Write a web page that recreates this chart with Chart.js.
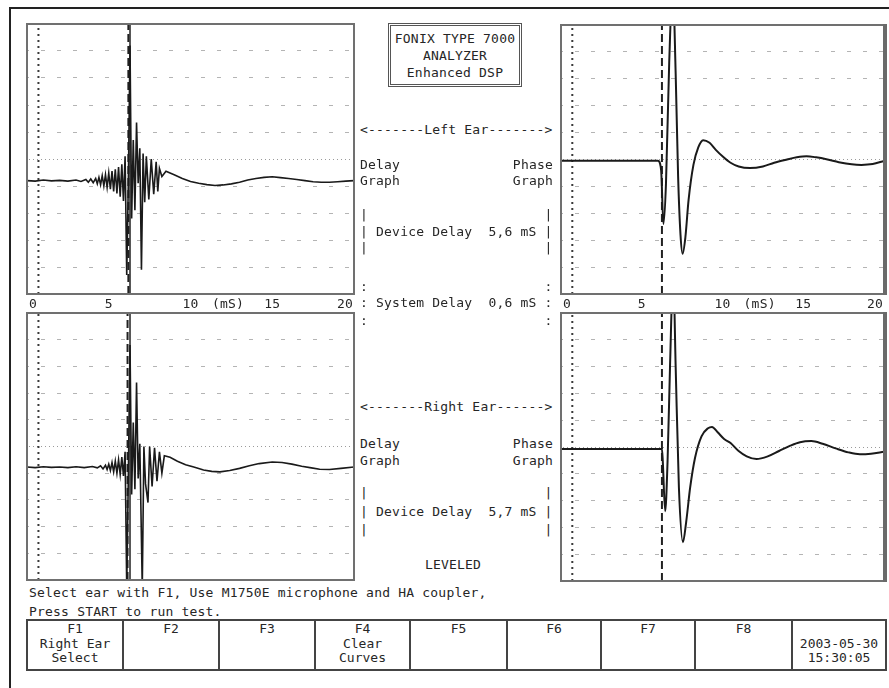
<!DOCTYPE html>
<html>
<head>
<meta charset="utf-8">
<script src="https://cdn.jsdelivr.net/npm/chart.js@4/dist/chart.umd.min.js"></script>
<style>
  html, body { margin: 0; padding: 0; background: #fff; }
  #screen { position: relative; width: 889px; height: 688px; overflow: hidden; background: #fff;
            font-family: "DejaVu Sans Mono", "Liberation Mono", monospace; font-size: 13px; color: #262626; }
  #screen canvas { position: absolute; }
  .t { position: absolute; white-space: pre; line-height: 14px; height: 14px; letter-spacing: 0.2px; }
  #frame { position: absolute; left: 9px; top: 7px; width: 900px; height: 700px;
           border-left: 2px solid #222; border-top: 2px solid #222; }
  #badge { position: absolute; left: 388px; top: 23px; width: 128px; height: 58px;
           border: 3px double #555; }
  #keys { position: absolute; left: 26px; top: 619px; border-collapse: collapse; table-layout: fixed; }
  #keys td { border: 2px solid #444; height: 47px; padding: 1px 0 0 0; vertical-align: top;
             text-align: center; line-height: 14.5px; white-space: pre; font-size: 13px; color: #262626; }
</style>
</head>
<body>
<div id="screen">
  <div id="frame"></div>
  <div id="badge"></div>
  <canvas id="leftDelay"></canvas>
  <canvas id="leftPhase"></canvas>
  <canvas id="rightDelay"></canvas>
  <canvas id="rightPhase"></canvas>
  <table id="keys"><tr id="keyRow"></tr></table>
</div>
<script>
// ---- time axis (ms) and labels ----
const timeTicks = [0, 5, 10, 15, 20];
const tickText = ['0', '5', '10', '15', '20'];
const unitText = '(mS)';
const unitAtMs = 12.3;

// ---- cursors (ms) ----
const referenceMs = 0.7;          // dotted reference line
const leftEarCursorMs = 6.2;      // device delay 5.6 + system delay 0.6
const rightEarCursorMs = 6.25;    // device delay 5.7 + system delay 0.6
const peakCursorMs = 6.3;         // solid marker on the delay graphs

// ---- Left ear, delay graph ----
const leftDelayMs = [0,0.5,1,1.5,2,2.5,3,3.3,3.6,3.75,3.9,4.05,4.2,4.3,4.4,4.5,4.6,4.7,4.8,4.9,
  5.0,5.1,5.2,5.3,5.4,5.5,5.6,5.7,5.8,5.9,6.0,6.1,6.2,6.3,6.4,6.5,6.6,6.7,6.8,6.9,
  7.0,7.1,7.2,7.3,7.45,7.6,7.75,7.9,8.0,8.1,8.25,8.5,
  9,9.5,10,10.5,11,11.5,12,12.5,13,13.5,14,14.5,15,15.5,16,16.5,17,17.5,18,18.5,19,19.5,20];
const leftDelayAmp = [-0.8,-0.82,-0.78,-0.81,-0.79,-0.82,-0.78,-0.83,-0.76,-0.86,-0.74,-0.88,
  -0.72,-0.92,-0.68,-0.95,-0.62,-1.0,-0.58,-1.05,
  -0.52,-1.12,-0.45,-1.2,-0.38,-1.28,-0.3,-1.4,-0.2,-1.55,
  0.1,-4.3,-0.8,4.2,-2.2,0.7,-1.9,1.35,-0.9,0.4,
  -4.1,0.2,-1.6,0.1,-1.5,0.0,-1.3,-0.1,-1.2,-0.35,-0.65,-0.45,
  -0.58,-0.72,-0.83,-0.9,-0.95,-0.98,-0.96,-0.92,-0.86,-0.78,-0.72,-0.68,-0.66,-0.69,-0.72,-0.76,
  -0.8,-0.84,-0.86,-0.86,-0.84,-0.82,-0.8];

// ---- Left ear, phase graph ----
const leftPhaseMs = [0,1,2,3,4,5,6.0,6.2,6.34,6.5,6.7,6.92,7.1,7.25,7.4,7.53,7.7,7.9,8.2,8.5,8.8,
  9.2,9.6,10,10.5,11,11.7,12.5,13.2,14,14.6,15.2,15.8,16.5,17.2,18,18.6,19.3,20];
const leftPhaseAmp = [-0.05,-0.05,-0.05,-0.05,-0.05,-0.05,-0.05,-0.4,-2.4,-0.9,3.6,6.5,3.2,-0.6,-2.8,-3.5,
  -2.9,-1.5,-0.2,0.45,0.72,0.62,0.35,0.12,-0.12,-0.26,-0.32,-0.26,-0.12,0.0,0.08,0.12,0.08,0.0,
  -0.1,-0.18,-0.2,-0.17,-0.05];

// ---- Right ear, delay graph ----
const rightDelayMs = [0,0.5,1,1.5,2,2.5,3,3.5,4,4.3,4.5,4.65,4.8,4.9,
  5.0,5.1,5.2,5.3,5.4,5.5,5.6,5.7,5.8,5.9,6.0,6.1,6.2,6.3,6.4,6.5,6.6,6.7,6.8,6.9,
  7.05,7.15,7.25,7.4,7.5,7.65,7.8,7.95,8.1,8.25,8.4,
  8.75,9.2,9.7,10.2,10.8,11.3,11.8,12.4,13,13.6,14.2,15,15.6,16.2,16.8,17.4,17.9,18.5,19.2,20];
const rightDelayAmp = [-0.77,-0.79,-0.76,-0.78,-0.77,-0.79,-0.76,-0.79,-0.75,
  -0.8,-0.72,-0.84,-0.7,-0.86,
  -0.66,-0.9,-0.6,-0.95,-0.55,-1.0,-0.5,-1.05,-0.4,-1.1,
  -0.2,-5.3,-1.0,3.8,-1.8,0.9,-1.6,2.4,-1.2,0.1,
  -5.3,0.0,-1.4,-2.1,0.0,-1.5,-0.05,-1.3,-0.2,-1.0,-0.35,
  -0.4,-0.55,-0.68,-0.77,-0.88,-0.93,-0.95,-0.9,-0.82,-0.72,-0.64,-0.58,-0.6,-0.66,-0.74,-0.8,
  -0.85,-0.86,-0.82,-0.77];

// ---- Right ear, phase graph ----
const rightPhaseMs = [0,1,2,3,4,5,6.0,6.25,6.3,6.45,6.6,6.75,6.95,7.1,7.3,7.55,7.75,8.0,8.3,8.7,9.1,
  9.35,9.7,10.1,10.5,11.0,11.5,12.1,12.8,13.5,14.2,14.8,15.5,16.2,17,17.8,18.5,19.2,20];
const rightPhaseAmp = [-0.07,-0.07,-0.07,-0.07,-0.07,-0.07,-0.07,-0.07,-0.5,-2.4,-0.5,3.0,6.5,3.0,-1.5,
  -3.55,-2.8,-1.5,-0.4,0.4,0.7,0.75,0.55,0.3,0.15,-0.15,-0.35,-0.45,-0.35,-0.15,0.05,0.18,0.22,
  0.12,-0.05,-0.2,-0.27,-0.25,-0.18];

// ---- Function keys ----
const keyLabels = ['F1\nRight Ear\nSelect', 'F2', 'F3', 'F4\nClear\nCurves', 'F5', 'F6', 'F7', 'F8', '\n2003-05-30\n15:30:05'];
const keyWidths = [96, 96, 96, 95, 97, 94, 94, 97, 94];

// ---------------------------------------------------------------
const PAD = 3;

// draws the panel frame and the dense centre row
const scopeFrame = {
  id: 'scopeFrame',
  afterDraw(chart, args, opts) {
    const { ctx, chartArea: a } = chart;
    ctx.save();
    ctx.strokeStyle = opts.color || '#707070';
    ctx.lineWidth = 2;
    ctx.strokeRect(a.left, a.top, a.right - a.left, a.bottom - a.top);
    if (opts.heavyRight) {
      ctx.strokeStyle = '#6a6a6a';
      ctx.lineWidth = 4;
      ctx.beginPath();
      ctx.moveTo(a.right + 1, a.top - 1);
      ctx.lineTo(a.right + 1, a.bottom + 1);
      ctx.stroke();
    }
    ctx.restore();
  }
};

function points(xs, ys) {
  const n = Math.min(xs.length, ys.length);
  const out = [];
  for (let i = 0; i < n; i++) out.push({ x: xs[i], y: ys[i] });
  return out;
}

function vline(ms, dash, width, color) {
  return {
    data: [{ x: ms, y: -5 }, { x: ms, y: 5 }],
    borderColor: color, borderWidth: width, borderDash: dash,
    pointRadius: 0, fill: false, order: 2
  };
}

function makeScope(id, rect, ms, amp, cursors, smooth, heavyRight) {
  const cv = document.getElementById(id);
  cv.width = rect.w + PAD * 2;
  cv.height = rect.h + PAD * 2;
  cv.style.left = (rect.x - PAD) + 'px';
  cv.style.top = (rect.y - PAD) + 'px';
  const datasets = [
    {
      data: points(ms, amp),
      borderColor: '#1a1a1a', borderWidth: smooth ? 2 : 1.6,
      pointRadius: 0, fill: false, order: 1,
      cubicInterpolationMode: smooth ? 'monotone' : 'default',
      tension: 0
    },
    vline(referenceMs, [2, 4], 2, '#3a3a3a')
  ].concat(cursors);
  return new Chart(cv, {
    type: 'line',
    data: { datasets },
    options: {
      responsive: false, animation: false, devicePixelRatio: 1,
      layout: { padding: PAD },
      plugins: { legend: { display: false }, tooltip: { enabled: false }, scopeFrame: { heavyRight } },
      scales: {
        x: {
          type: 'linear', min: 0, max: 20,
          ticks: { display: false },
          grid: { display: false, drawTicks: false },
          border: { display: false }
        },
        y: {
          type: 'linear', min: -5, max: 5,
          ticks: { display: false, stepSize: 1 },
          grid: {
            drawTicks: false, lineWidth: 1,
            color: (c) => (c.tick && Math.abs(c.tick.value) === 5) ? 'rgba(0,0,0,0)' : (c.tick && c.tick.value === 0 ? '#9a9a9a' : '#b4b4b4')
          },
          border: {
            display: false,
            dash: (c) => (c.tick && c.tick.value === 0) ? [1, 3] : [4, 12],
            dashOffset: 2
          }
        }
      }
    },
    plugins: [scopeFrame]
  });
}

const leftDelayChart = makeScope('leftDelay', { x: 27, y: 24, w: 327, h: 270 }, leftDelayMs, leftDelayAmp,
  [vline(leftEarCursorMs, [8, 4], 2, '#222'), vline(peakCursorMs, [], 1.5, '#222')], false, false);
const leftPhaseChart = makeScope('leftPhase', { x: 561, y: 25, w: 323, h: 269 }, leftPhaseMs, leftPhaseAmp,
  [vline(leftEarCursorMs + 0.05, [8, 4], 2, '#222')], true, true);
const rightDelayChart = makeScope('rightDelay', { x: 27, y: 313, w: 327, h: 267 }, rightDelayMs, rightDelayAmp,
  [vline(rightEarCursorMs - 0.1, [8, 4], 2, '#222'), vline(peakCursorMs, [], 1.5, '#222')], false, false);
const rightPhaseChart = makeScope('rightPhase', { x: 561, y: 313, w: 323, h: 268 }, rightPhaseMs, rightPhaseAmp,
  [vline(rightEarCursorMs, [8, 4], 2, '#222')], true, true);

// ---- text ----
const screen = document.getElementById('screen');
function put(text, x, cy, align) {
  const d = document.createElement('div');
  d.className = 't';
  d.textContent = text;
  d.style.top = (cy - 7) + 'px';
  if (align === 'right') d.style.right = (889 - x) + 'px';
  else if (align === 'center') { d.style.left = x + 'px'; d.style.transform = 'translateX(-50%)'; }
  else d.style.left = x + 'px';
  screen.appendChild(d);
}

// shared time labels between the upper and lower graphs
function timeLabels(chart, canvasLeft) {
  const sx = chart.scales.x;
  timeTicks.forEach((v, i) => {
    const px = canvasLeft + sx.getPixelForValue(v);
    if (i === 0) put(tickText[i], px + 2, 304, 'left');
    else if (i === timeTicks.length - 1) put(tickText[i], px - 1, 304, 'right');
    else put(tickText[i], px, 304, 'center');
  });
  put(unitText, canvasLeft + sx.getPixelForValue(unitAtMs), 304, 'center');
}
timeLabels(leftDelayChart, 27 - PAD);
timeLabels(leftPhaseChart, 561 - PAD);

// header badge
put('FONIX TYPE 7000', 455, 39, 'center');
put('ANALYZER', 455, 56, 'center');
put('Enhanced DSP', 455, 73, 'center');

// centre column
const colX = 360, colR = 553;
put('<-------Left Ear------->', colX, 130);
put('Delay', colX, 165); put('Graph', colX, 181);
put('Phase', colR, 165, 'right'); put('Graph', colR, 181, 'right');
put('|                      |', colX, 215);
put('| Device Delay  5,6 mS |', colX, 232);
put('|                      |', colX, 248);
put(':                      :', colX, 287);
put(': System Delay  0,6 mS :', colX, 303);
put(':                      :', colX, 321);
put('<-------Right Ear------>', colX, 407);
put('Delay', colX, 444); put('Graph', colX, 461);
put('Phase', colR, 444, 'right'); put('Graph', colR, 461, 'right');
put('|                      |', colX, 493);
put('| Device Delay  5,7 mS |', colX, 512);
put('|                      |', colX, 530);
put('LEVELED', 453, 565, 'center');

// prompt lines
put('Select ear with F1, Use M1750E microphone and HA coupler,', 29, 593);
put('Press START to run test.', 29, 612);

// function key strip
const row = document.getElementById('keyRow');
keyLabels.forEach((lbl, i) => {
  const td = document.createElement('td');
  td.style.width = (keyWidths[i] - 2) + 'px';
  td.textContent = lbl;
  row.appendChild(td);
});
</script>
</body>
</html>
